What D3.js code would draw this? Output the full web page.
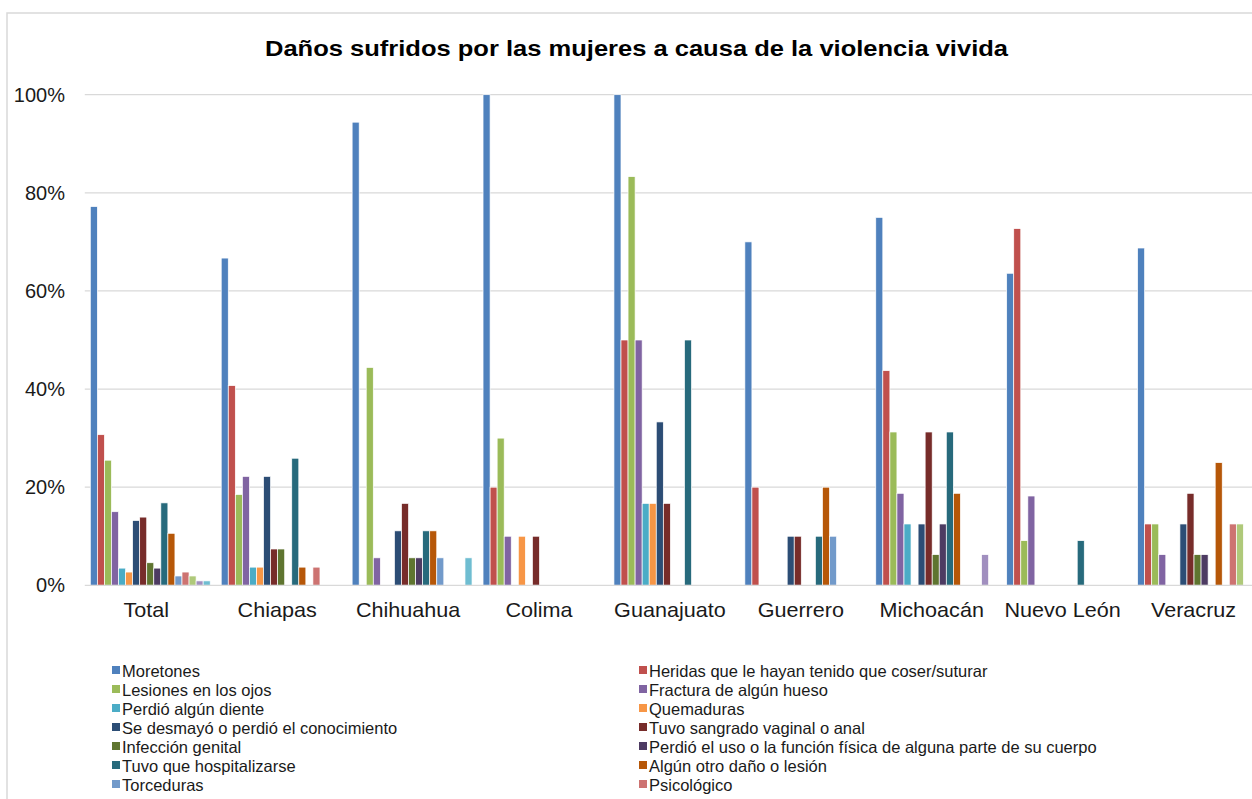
<!DOCTYPE html>
<html>
<head>
<meta charset="utf-8">
<script src="https://cdn.jsdelivr.net/npm/d3@7"></script>
<style>
  body { margin: 0; background: #fff; overflow: hidden; }
  svg { display: block; font-family: "Liberation Sans", Arial, sans-serif; }
</style>
</head>
<body>
<div id="chart"></div>
<script>
// categories (states)
const states = ["Total", "Chiapas", "Chihuahua", "Colima", "Guanajuato", "Guerrero", "Michoacán", "Nuevo León", "Veracruz"];

// damage types (the last three fall below the cut of the legend)
const damages = [
  "Moretones", "Heridas que le hayan tenido que coser/suturar",
  "Lesiones en los ojos", "Fractura de algún hueso",
  "Perdió algún diente", "Quemaduras",
  "Se desmayó o perdió el conocimiento", "Tuvo sangrado vaginal o anal",
  "Infección genital", "Perdió el uso o la función física de alguna parte de su cuerpo",
  "Tuvo que hospitalizarse", "Algún otro daño o lesión",
  "Torceduras", "Psicológico",
  "Otro", "No sabe", "No especificado"
];
const visibleLegend = 14;

const colors = [
  "#4F81BD", "#C0504D", "#9BBB59", "#8064A2", "#4BACC6", "#F79646",
  "#2C4D75", "#772C2A", "#5F7530", "#4D3B62", "#276A7C", "#B65708",
  "#729ACA", "#CD7371", "#AFC97A", "#A18FBF", "#6FBDD1"
];

// percentages, one array per state, same order as damages
const total      = [77.2, 30.7, 25.5, 15.0, 3.5, 2.7, 13.2, 13.9, 4.6, 3.5, 16.8, 10.6, 1.9, 2.7, 1.9, 0.9, 0.9];
const chiapas    = [66.7, 40.7, 18.5, 22.2, 3.7, 3.7, 22.2, 7.4, 7.4, 0, 25.9, 3.7, 0, 3.7, 0, 0, 0];
const chihuahua  = [94.4, 0, 44.4, 5.6, 0, 0, 11.1, 16.7, 5.6, 5.6, 11.1, 11.1, 5.6, 0, 0, 0, 5.6];
const colima     = [100, 20, 30, 10, 0, 10, 0, 10, 0, 0, 0, 0, 0, 0, 0, 0, 0];
const guanajuato = [100, 50, 83.3, 50, 16.7, 16.7, 33.3, 16.7, 0, 0, 50, 0, 0, 0, 0, 0, 0];
const guerrero   = [70, 20, 0, 0, 0, 0, 10, 10, 0, 0, 10, 20, 10, 0, 0, 0, 0];
const michoacan  = [75, 43.75, 31.25, 18.75, 12.5, 0, 12.5, 31.25, 6.25, 12.5, 31.25, 18.75, 0, 0, 0, 6.25, 0];
const nuevoLeon  = [63.6, 72.7, 9.1, 18.2, 0, 0, 0, 0, 0, 0, 9.1, 0, 0, 0, 0, 0, 0];
const veracruz   = [68.75, 12.5, 12.5, 6.25, 0, 0, 12.5, 18.75, 6.25, 6.25, 0, 25, 0, 12.5, 12.5, 0, 0];

const yTicks = [0, 20, 40, 60, 80, 100];

const values = [total, chiapas, chihuahua, colima, guanajuato, guerrero, michoacan, nuevoLeon, veracruz];
const data = states.map((s, i) => ({
  state: s,
  items: damages.map((d, j) => ({ damage: d, value: values[i][j], color: colors[j] }))
}));

const width = 1252, height = 799;
const svg = d3.select("#chart").append("svg")
  .attr("width", width)
  .attr("height", height);

// chart border (the picture is cut on the right and bottom)
svg.append("rect")
  .attr("x", 7).attr("y", 13)
  .attr("width", 1265).attr("height", 830)
  .attr("fill", "none")
  .attr("stroke", "#d9d9d9")
  .attr("stroke-width", 1.5);

svg.append("text")
  .attr("x", 265)
  .attr("y", 56)
  .attr("textLength", 743)
  .attr("lengthAdjust", "spacingAndGlyphs")
  .style("font-size", "22.5px")
  .style("font-weight", "bold")
  .style("fill", "#000")
  .text("Daños sufridos por las mujeres a causa de la violencia vivida");

const x0 = d3.scaleBand().domain(states).range([84.8, 1263]).padding(0);
const x1 = d3.scaleBand().domain(damages).range([0, x0.bandwidth()]).paddingInner(0).paddingOuter(0.78);
const y = d3.scaleLinear().domain([0, 100]).range([585.3, 94.7]);

// gridlines
svg.append("g")
  .selectAll("line")
  .data(yTicks.filter(t => t > 0))
  .join("line")
  .attr("x1", 84.8).attr("x2", width)
  .attr("y1", d => y(d)).attr("y2", d => y(d))
  .attr("stroke", "#d9d9d9")
  .attr("stroke-width", 1.3);

// y labels
svg.append("g")
  .selectAll("text")
  .data(yTicks)
  .join("text")
  .attr("x", 65)
  .attr("y", d => y(d))
  .attr("dy", "0.35em")
  .attr("text-anchor", "end")
  .style("font-size", "20px")
  .style("fill", "#1a1a1a")
  .text(d => d + "%");

// bars
const groups = svg.append("g")
  .selectAll("g")
  .data(data)
  .join("g")
  .attr("transform", d => `translate(${x0(d.state)},0)`);

groups.selectAll("rect")
  .data(d => d.items.filter(it => it.value > 0))
  .join("rect")
  .attr("x", d => x1(d.damage))
  .attr("y", d => y(d.value))
  .attr("width", x1.bandwidth())
  .attr("height", d => y(0) - y(d.value))
  .attr("fill", d => d.color)
  .attr("stroke", "#fff")
  .attr("stroke-width", 0.7);

// x axis line
svg.append("line")
  .attr("x1", 84.8).attr("x2", width)
  .attr("y1", y(0)).attr("y2", y(0))
  .attr("stroke", "#d9d9d9")
  .attr("stroke-width", 1.3);

// x labels, a bit wider than plain Arial as in the original
svg.append("g")
  .selectAll("text")
  .data(states)
  .join("text")
  .attr("transform", d => `translate(${x0(d) + x0.bandwidth() / 2 - 4},617) scale(1.08,1)`)
  .attr("text-anchor", "middle")
  .style("font-size", "20px")
  .style("fill", "#1a1a1a")
  .text(d => d);

// legend, two columns (only the first rows fit in the picture)
const legend = svg.append("g")
  .selectAll("g")
  .data(damages.slice(0, visibleLegend))
  .join("g")
  .attr("transform", (d, i) => `translate(${i % 2 === 0 ? 112 : 639},${671 + Math.floor(i / 2) * 19})`);

legend.append("rect")
  .attr("x", 0).attr("y", -5)
  .attr("width", 8).attr("height", 8)
  .attr("fill", (d, i) => colors[i]);

legend.append("text")
  .attr("x", 10)
  .attr("y", 0)
  .attr("dy", "0.35em")
  .style("font-size", "16.5px")
  .style("fill", "#1a1a1a")
  .text(d => d);
</script>
</body>
</html>
